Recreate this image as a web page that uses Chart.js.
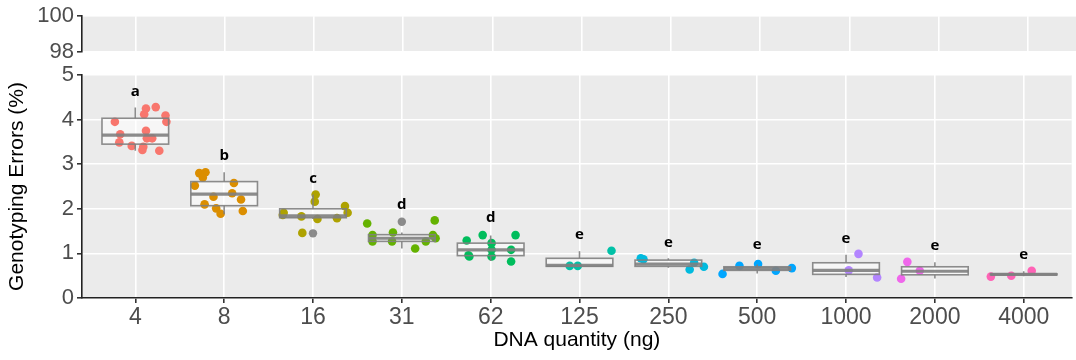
<!DOCTYPE html>
<html>
<head>
<meta charset="utf-8">
<script src="https://cdn.jsdelivr.net/npm/chart.js@4.4.1/dist/chart.umd.min.js"></script>
<style>
  html, body { margin: 0; padding: 0; background: #fff; }
  #wrap { position: relative; width: 1076px; height: 360px; overflow: hidden; }
  #topPanel { position: absolute; left: 0; top: 0; }
  #mainPanel { position: absolute; left: 0; top: 55px; }
</style>
</head>
<body>
<div id="wrap">
  <canvas id="topPanel" width="1076" height="70"></canvas>
  <canvas id="mainPanel" width="1076" height="305"></canvas>
</div>
<script>
// DNA quantity groups
const categories = ['4', '8', '16', '31', '62', '125', '250', '500', '1000', '2000', '4000'];
const groupColors = ['#F8766D', '#DB8E00', '#AEA200', '#64B200', '#00BD5C', '#00C1A7', '#00BADE', '#00A6FF', '#B385FF', '#EF67EB', '#FF63B6'];

// significance letters and where they sit
const letters = ['a', 'b', 'c', 'd', 'd', 'e', 'e', 'e', 'e', 'e', 'e'];
const letterY = [4.63, 3.18, 2.68, 2.09, 1.79, 1.41, 1.24, 1.19, 1.34, 1.17, 0.98];

// box stats
const q1 = [3.45, 2.07, 1.80, 1.27, 0.95, 0.71, 0.71, 0.62, 0.53, 0.52, 0.52];
const median = [3.65, 2.33, 1.84, 1.34, 1.08, 0.73, 0.76, 0.66, 0.62, 0.60, 0.53];
const q3 = [4.03, 2.61, 2.00, 1.42, 1.23, 0.89, 0.85, 0.70, 0.79, 0.70, 0.54];
const whiskerLow = [3.30, 1.88, 1.77, 1.11, 0.83, 0.71, 0.68, 0.55, 0.47, 0.44, 0.49];
const whiskerHigh = [4.27, 2.82, 2.32, 1.47, 1.40, 1.05, 0.89, 0.75, 0.97, 0.80, 0.60];
const outliers = [[], [], [1.45], [1.71], [], [], [], [], [], [], []];

// individual runs (error %) and their horizontal jitter
const errorValues = [
  [3.95, 3.67, 3.49, 3.41, 3.32, 3.39, 3.75, 3.58, 3.58, 4.12, 4.25, 4.28, 4.09, 3.95, 3.30],
  [2.80, 2.82, 2.70, 2.52, 2.27, 2.10, 2.01, 1.89, 2.58, 2.35, 2.21, 1.95],
  [2.32, 2.16, 2.06, 1.91, 1.91, 1.86, 1.83, 1.77, 1.79, 1.46],
  [1.67, 1.41, 1.27, 1.47, 1.27, 1.11, 1.27, 1.41, 1.74, 1.34],
  [1.29, 0.96, 0.93, 1.41, 1.23, 1.08, 0.93, 1.41, 1.08, 0.82],
  [0.72, 0.72, 1.06],
  [0.89, 0.87, 0.64, 0.79, 0.70],
  [0.54, 0.72, 0.76, 0.61, 0.67],
  [0.99, 0.62, 0.46],
  [0.81, 0.61, 0.43],
  [0.48, 0.50, 0.61]
];
const jitter = [
  [-0.23, -0.17, -0.18, -0.04, 0.08, 0.09, 0.12, 0.13, 0.19, 0.10, 0.12, 0.23, 0.34, 0.35, 0.27],
  [-0.28, -0.21, -0.24, -0.33, -0.12, -0.22, -0.09, -0.04, 0.11, 0.09, 0.19, 0.21],
  [0.03, 0.02, 0.36, 0.39, -0.33, -0.34, -0.13, 0.05, 0.27, -0.12],
  [-0.39, -0.33, -0.33, -0.10, -0.11, 0.15, 0.27, 0.35, 0.37, 0.38],
  [-0.27, -0.25, -0.24, -0.09, 0.01, 0.01, 0.01, 0.28, 0.23, 0.23],
  [-0.11, -0.02, 0.36],
  [-0.31, -0.28, 0.24, 0.29, 0.40],
  [-0.39, -0.20, 0.01, 0.21, 0.39],
  [0.14, 0.03, 0.35],
  [-0.31, -0.17, -0.38],
  [-0.37, -0.14, 0.09]
];

const topTicks = [98, 99, 100];

const AXIS_FONT = "'Liberation Sans', Arial, sans-serif";
const TICK_GREY = '#4D4D4D';
const PANEL_BG = '#EBEBEB';
const BOX_GREY = 'rgba(127,127,127,0.9)';

const panelBg = {
  id: 'panelBg',
  beforeDraw(chart) {
    const { ctx, chartArea: a } = chart;
    ctx.save();
    ctx.fillStyle = PANEL_BG;
    ctx.fillRect(a.left, a.top, a.right - a.left, a.bottom - a.top);
    ctx.restore();
  }
};

// box fill goes under the points, outlines over them
const boxPlot = {
  id: 'boxPlot',
  beforeDatasetsDraw(chart) {
    const { ctx, scales: { x, y } } = chart;
    ctx.save();
    ctx.fillStyle = 'rgba(255,255,255,0.55)';
    categories.forEach((c, i) => {
      const l = x.getPixelForValue(i - 0.375);
      const r = x.getPixelForValue(i + 0.375);
      const top = y.getPixelForValue(q3[i]);
      const bot = y.getPixelForValue(q1[i]);
      ctx.fillRect(l, top, r - l, bot - top);
    });
    ctx.restore();
  },
  afterDatasetsDraw(chart) {
    const { ctx, scales: { x, y } } = chart;
    ctx.save();
    categories.forEach((c, i) => {
      const l = x.getPixelForValue(i - 0.375);
      const r = x.getPixelForValue(i + 0.375);
      const m = x.getPixelForValue(i);
      const top = y.getPixelForValue(q3[i]);
      const bot = y.getPixelForValue(q1[i]);
      ctx.strokeStyle = BOX_GREY;
      ctx.lineWidth = 1.6;
      ctx.beginPath();
      ctx.moveTo(m, y.getPixelForValue(whiskerHigh[i]));
      ctx.lineTo(m, top);
      ctx.moveTo(m, bot);
      ctx.lineTo(m, y.getPixelForValue(whiskerLow[i]));
      ctx.stroke();
      ctx.strokeRect(l, top, r - l, bot - top);
      ctx.lineWidth = 3.2;
      ctx.beginPath();
      ctx.moveTo(l, y.getPixelForValue(median[i]));
      ctx.lineTo(r, y.getPixelForValue(median[i]));
      ctx.stroke();
      ctx.fillStyle = BOX_GREY;
      outliers[i].forEach(v => {
        ctx.beginPath();
        ctx.arc(m, y.getPixelForValue(v), 4.2, 0, Math.PI * 2);
        ctx.fill();
      });
    });
    ctx.restore();
  }
};

const letterLabels = {
  id: 'letterLabels',
  afterDatasetsDraw(chart) {
    const { ctx, scales: { x, y } } = chart;
    ctx.save();
    ctx.font = "bold 15px 'Open Sans', sans-serif";
    ctx.fillStyle = '#000';
    ctx.textAlign = 'center';
    ctx.textBaseline = 'middle';
    letters.forEach((t, i) => ctx.fillText(t, x.getPixelForValue(i), y.getPixelForValue(letterY[i])));
    ctx.restore();
  }
};

const xRange = { min: -0.6, max: 10.54 };
const setCategoryTicks = s => { s.ticks = categories.map((c, i) => ({ value: i })); };

// top panel: 98-100 part of the broken axis
new Chart(document.getElementById('topPanel'), {
  type: 'scatter',
  data: { datasets: [] },
  options: {
    responsive: false,
    animation: false,
    devicePixelRatio: 1,
    layout: { padding: { top: 16, right: 0, left: 0, bottom: 0 } },
    plugins: { legend: { display: false }, tooltip: { enabled: false } },
    scales: {
      x: {
        type: 'linear', min: xRange.min, max: xRange.max,
        afterBuildTicks: setCategoryTicks,
        ticks: { display: false },
        grid: { color: '#fff', lineWidth: 1.6, drawTicks: false },
        border: { display: false },
        afterFit: s => { s.height = 18; }
      },
      y: {
        min: 98, max: 100,
        afterBuildTicks: s => { s.ticks = topTicks.map(v => ({ value: v })); },
        ticks: {
          callback: v => (v === 99 ? '' : v),
          font: { family: AXIS_FONT, size: 22 }, color: TICK_GREY, padding: 3
        },
        grid: {
          color: '#fff',
          lineWidth: c => (c.tick && c.tick.value === 99 ? 0.8 : 1.6),
          tickColor: c => (c.tick && c.tick.value === 99 ? 'rgba(0,0,0,0)' : '#333'),
          tickLength: 5
        },
        border: { color: '#222', width: 1.6 },
        afterFit: s => { s.width = 82; }
      }
    }
  },
  plugins: [panelBg]
});

// main panel: 0-5 %
new Chart(document.getElementById('mainPanel'), {
  type: 'scatter',
  data: {
    datasets: categories.map((c, i) => ({
      label: c,
      data: errorValues[i].map((v, k) => ({ x: i + jitter[i][k], y: v })),
      backgroundColor: groupColors[i],
      borderWidth: 0,
      pointRadius: 4.3,
      pointHoverRadius: 4.3
    }))
  },
  options: {
    responsive: false,
    animation: false,
    devicePixelRatio: 1,
    layout: { padding: { top: 20, right: 0, left: 0, bottom: 0 } },
    plugins: { legend: { display: false }, tooltip: { enabled: false } },
    scales: {
      x: {
        type: 'linear', min: xRange.min, max: xRange.max,
        afterBuildTicks: setCategoryTicks,
        ticks: {
          callback: v => categories[v],
          font: { family: AXIS_FONT, size: 23 }, color: TICK_GREY,
          padding: 1, maxRotation: 0, autoSkip: false
        },
        grid: { color: '#fff', lineWidth: 1.6, tickColor: '#333', tickLength: 5 },
        border: { color: '#222', width: 1.6 },
        title: {
          display: true, text: 'DNA quantity (ng)',
          font: { family: AXIS_FONT, size: 21 }, color: '#000',
          padding: { top: 0, bottom: 7 }
        },
        afterFit: s => { s.height = 62; }
      },
      y: {
        min: 0, max: 5,
        ticks: {
          stepSize: 0.5,
          callback: v => (Number.isInteger(v) ? v : ''),
          font: { family: AXIS_FONT, size: 22 }, color: TICK_GREY, padding: 3
        },
        grid: {
          color: '#fff',
          lineWidth: c => (c.tick && Number.isInteger(c.tick.value) ? 1.6 : 0.8),
          tickColor: c => (c.tick && Number.isInteger(c.tick.value) ? '#333' : 'rgba(0,0,0,0)'),
          tickLength: 5
        },
        border: { color: '#222', width: 1.6 },
        title: {
          display: true, text: 'Genotyping Errors (%)',
          font: { family: AXIS_FONT, size: 21 }, color: '#000',
          padding: { top: 5, bottom: 0 }
        },
        afterFit: s => { s.width = 82; }
      }
    }
  },
  plugins: [panelBg, boxPlot, letterLabels]
});
</script>
</body>
</html>
